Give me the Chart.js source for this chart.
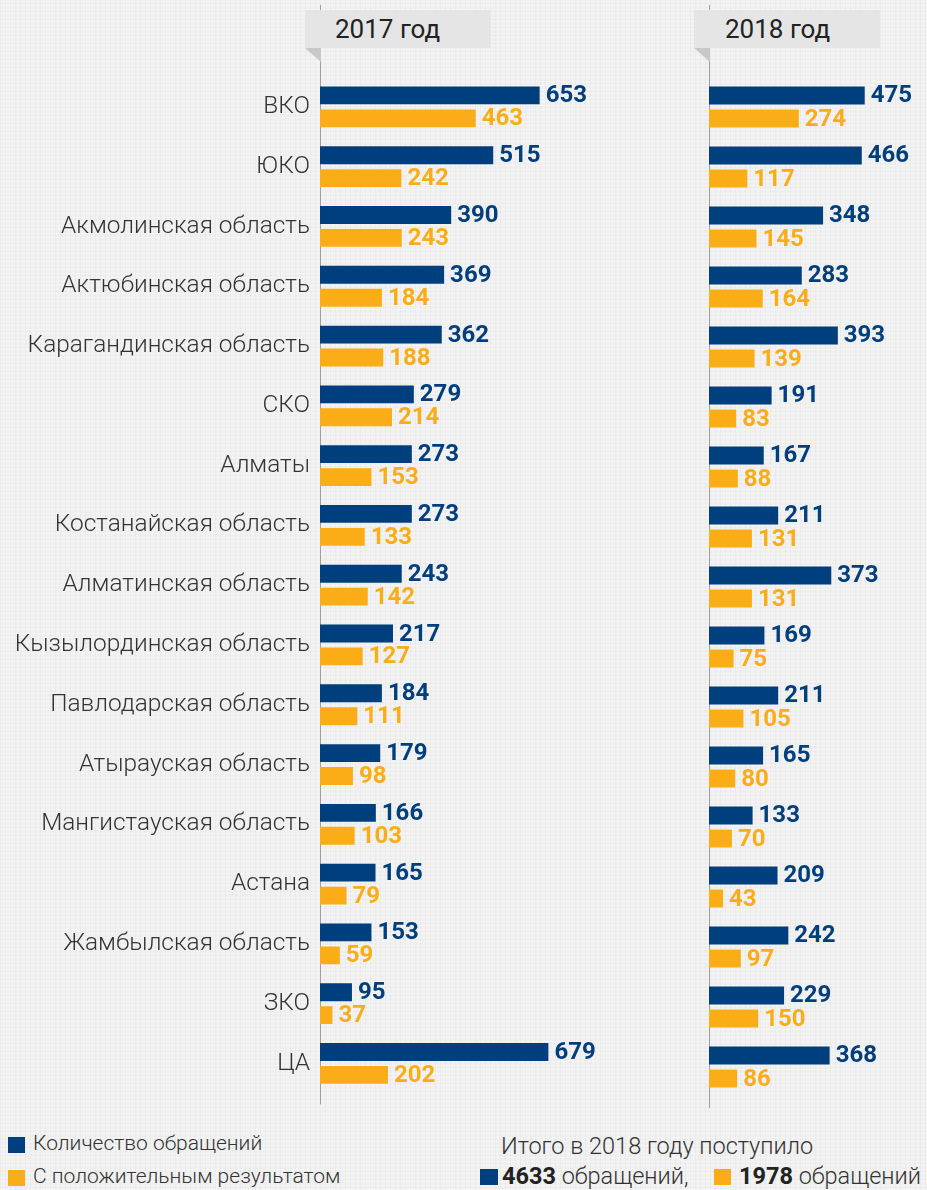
<!DOCTYPE html>
<html>
<head>
<meta charset="utf-8">
<script src="https://cdn.jsdelivr.net/npm/chart.js@4"></script>
<style>
  html, body { margin: 0; padding: 0; }
  body {
    width: 927px; height: 1190px; position: relative; overflow: hidden;
    background-color: #f0f0f0;
    background-image:
      repeating-linear-gradient(0deg, rgba(255,255,255,0.35) 0px, rgba(255,255,255,0.35) 1px, transparent 1px, transparent 4px),
      repeating-linear-gradient(90deg, rgba(200,200,200,0.18) 0px, rgba(200,200,200,0.18) 1px, transparent 1px, transparent 5px);
    font-family: Roboto, sans-serif;
  }
  canvas { position: absolute; top: 0; }
  #c2017 { left: 0; }
  #c2018 { left: 690px; }
  .tab {
    position: absolute; top: 10px; height: 38px; background: #e5e5e5;
    font-size: 26px; color: #222; line-height: 38px; z-index: 2;
  }
  .fold {
    position: absolute; top: 48px; width: 0; height: 0; z-index: 2;
    border-top: 14px solid #c8c8c8; border-left: 16px solid transparent;
  }
  .leg { position: absolute; font-weight: 300; color: #333; white-space: nowrap; }
  .sq { position: absolute; }
  .leg b { font-weight: 700; color: #222; }
</style>
</head>
<body>
<canvas id="c2017" width="690" height="1110"></canvas>
<canvas id="c2018" width="237" height="1110"></canvas>

<div class="tab" style="left:305px; width:186px; padding-left:30px; box-sizing:border-box;">2017 год</div>
<div class="fold" style="left:305px;"></div>
<div class="tab" style="left:694px; width:186px; padding-left:31px; box-sizing:border-box;">2018 год</div>
<div class="fold" style="left:694px;"></div>

<div class="sq" id="sq1" style="left:8px; top:1137px; width:17px; height:16px;"></div>
<div class="leg" id="leg1" style="left:33px; top:1131px; font-size:21px;"></div>
<div class="sq" id="sq2" style="left:8px; top:1170px; width:17px; height:16px;"></div>
<div class="leg" id="leg2" style="left:33px; top:1164px; font-size:21px;"></div>

<div class="leg" id="tot1" style="left:501px; top:1132px; font-size:23.5px;"></div>
<div class="sq" id="sq3" style="left:480px; top:1169px; width:18px; height:16px;"></div>
<div class="leg" id="tot2" style="left:502px; top:1162px; font-size:23.5px;"></div>
<div class="sq" id="sq4" style="left:714px; top:1169px; width:17px; height:16px;"></div>
<div class="leg" id="tot3" style="left:739px; top:1162px; font-size:23.5px;"></div>

<script>
const regiony = ['ВКО', 'ЮКО', 'Акмолинская область', 'Актюбинская область', 'Карагандинская область',
  'СКО', 'Алматы', 'Костанайская область', 'Алматинская область', 'Кызылординская область',
  'Павлодарская область', 'Атырауская область', 'Мангистауская область', 'Астана',
  'Жамбылская область', 'ЗКО', 'ЦА'];

const obrashcheniya2017 = [653, 515, 390, 369, 362, 279, 273, 273, 243, 217, 184, 179, 166, 165, 153, 95, 679];
const polozhit2017 = [463, 242, 243, 184, 188, 214, 153, 133, 142, 127, 111, 98, 103, 79, 59, 37, 202];
const obrashcheniya2018 = [475, 466, 348, 283, 393, 191, 167, 211, 373, 169, 211, 165, 133, 209, 242, 229, 368];
const polozhit2018 = [274, 117, 145, 164, 139, 83, 88, 131, 131, 75, 105, 80, 70, 43, 97, 150, 86];

const nazvaniya = ['Количество обращений', 'С положительным результатом'];
const itogo2018 = ['4633', '1978'];

const SINIY = '#003f7d';
const ZHELTIY = '#fbad18';

// вертикальная линия оси
const liniyaOsi = {
  id: 'liniyaOsi',
  beforeDatasetsDraw(chart) {
    const ctx = chart.ctx;
    const x = Math.round(chart.chartArea.left) + 0.5;
    ctx.save();
    ctx.strokeStyle = '#a0a0a0';
    ctx.lineWidth = 1;
    ctx.beginPath();
    ctx.moveTo(x, 5);
    ctx.lineTo(x, chart.chartArea.bottom + 11);
    ctx.stroke();
    ctx.restore();
  }
};

// подписи значений справа от столбиков
const podpisi = {
  id: 'podpisi',
  afterDatasetsDraw(chart) {
    const ctx = chart.ctx;
    ctx.save();
    ctx.font = 'bold 24px Roboto';
    ctx.textBaseline = 'middle';
    ctx.textAlign = 'left';
    chart.data.datasets.forEach((ds, i) => {
      const meta = chart.getDatasetMeta(i);
      ctx.fillStyle = ds.backgroundColor;
      meta.data.forEach((bar, j) => {
        ctx.fillText(ds.data[j], bar.x + 6, bar.y + 1);
      });
    });
    ctx.restore();
  }
};

function dibujar(id, totals, positives, maxX, osWidth, pokazatPodpisi) {
  const ctx = document.getElementById(id).getContext('2d');
  return new Chart(ctx, {
    type: 'bar',
    data: {
      labels: regiony,
      datasets: [{
        label: nazvaniya[0],
        data: totals,
        backgroundColor: SINIY,
        categoryPercentage: 0.767,
        barPercentage: 0.78
      }, {
        label: nazvaniya[1],
        data: positives,
        backgroundColor: ZHELTIY,
        categoryPercentage: 0.767,
        barPercentage: 0.78
      }]
    },
    options: {
      indexAxis: 'y',
      responsive: false,
      animation: false,
      layout: { padding: { top: 77, bottom: 13, left: 0, right: 0 } },
      plugins: { legend: { display: false }, tooltip: { enabled: false } },
      scales: {
        x: { display: false, min: 0, max: maxX },
        y: {
          grid: { display: false },
          border: { display: false },
          ticks: {
            display: pokazatPodpisi,
            padding: 2,
            color: '#333',
            font: { family: 'Roboto', size: 24.4, weight: 300 }
          },
          afterFit(scale) { scale.width = osWidth; }
        }
      }
    },
    plugins: [liniyaOsi, podpisi]
  });
}

dibujar('c2017', obrashcheniya2017, polozhit2017, 1100, 320, true);
dibujar('c2018', obrashcheniya2018, polozhit2018, 665, 19, false);

// легенда
document.getElementById('sq1').style.background = SINIY;
document.getElementById('sq2').style.background = ZHELTIY;
document.getElementById('sq3').style.background = SINIY;
document.getElementById('sq4').style.background = ZHELTIY;
document.getElementById('leg1').textContent = nazvaniya[0];
document.getElementById('leg2').textContent = nazvaniya[1];
document.getElementById('tot1').textContent = 'Итого в 2018 году поступило';
document.getElementById('tot2').innerHTML = '<b>' + itogo2018[0] + '</b> обращений,';
document.getElementById('tot3').innerHTML = '<b>' + itogo2018[1] + '</b> обращений';
</script>
</body>
</html>
